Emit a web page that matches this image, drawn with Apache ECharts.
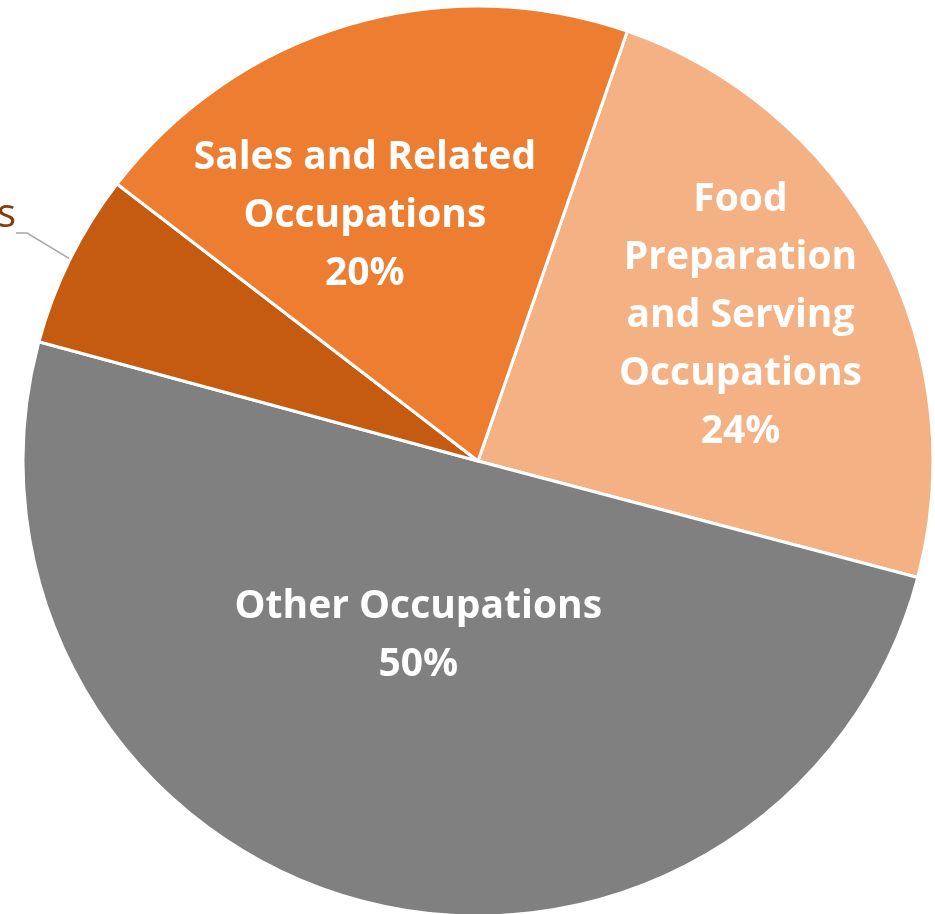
<!DOCTYPE html>
<html>
<head>
<meta charset="utf-8">
<script src="https://cdn.jsdelivr.net/npm/echarts@6/dist/echarts.min.js"></script>
<style>
    html, body { margin: 0; padding: 0; background: #fff; }
    #pieChart { width: 935px; height: 914px; }
</style>
</head>
<body>
<div id="pieChart"></div>
<script>
// dữ liệu (phần trăm), theo chiều kim đồng hồ
const categories = [
    'Food Preparation and Serving Occupations',
    'Other Occupations',
    'Office and Administrative Support Occupations',
    'Sales and Related Occupations'
];
const values = [23.8, 50.1, 6.2, 19.9];
const labelTexts = [
    'Food\nPreparation\nand Serving\nOccupations',
    'Other Occupations',
    'Office and Administrative Support Occupations',
    'Sales and Related\nOccupations'
];

const colors = ['#F4B183', '#808080', '#C55A11', '#ED7D31'];
// vị trí nhãn kiểu Excel "best fit"
const labelOffsets = [[59, -37], [0, -48], [0, 0], [-47, -24]];

var myChart = echarts.init(document.getElementById('pieChart'));

let pieData = categories.map(function (name, i) {
    let item = {
        name: name,
        value: values[i],
        itemStyle: { color: colors[i] },
        label: {
            position: 'inside',
            offset: labelOffsets[i],
            formatter: function (p) {
                return labelTexts[i] + '\n' + Math.round(p.percent) + '%';
            }
        },
        labelLine: { show: false }
    };
    if (i === 2) {
        // nhãn nhỏ nằm ngoài khung, chỉ thấy chữ "s"
        item.label = {
            position: 'outside',
            color: '#843C0C',
            width: 900,
            overflow: 'none',
            align: 'right',
            formatter: function (p) {
                return '{n|' + labelTexts[i] + '}\n{p|' + Math.round(p.percent) + '%}';
            },
            rich: {
                n: { color: '#843C0C', fontSize: 40, fontWeight: 'normal', fontFamily: 'Open Sans', lineHeight: 58, align: 'right' },
                p: { color: '#843C0C', fontSize: 40, fontWeight: 'normal', fontFamily: 'Open Sans', lineHeight: 28, align: 'center' }
            }
        };
        item.labelLine = {
            show: true,
            length: 40,
            length2: 11,
            lineStyle: { color: '#A6A6A6', width: 1.5 }
        };
    }
    return item;
});

let option = {
    animation: false,
    series: [{
        type: 'pie',
        center: [478, 461],
        radius: 455,
        startAngle: 70.85,
        clockwise: true,
        avoidLabelOverlap: false,
        percentPrecision: 0,
        itemStyle: {
            borderColor: '#ffffff',
            borderWidth: 3
        },
        label: {
            color: '#ffffff',
            fontSize: 39,
            fontWeight: 'bold',
            fontFamily: 'Open Sans',
            lineHeight: 58,
            align: 'center'
        },
        labelLayout: function (params) {
            if (params.dataIndex === 2) {
                return { x: 16, y: 230, align: 'right', verticalAlign: 'middle' };
            }
        },
        emphasis: { disabled: true },
        data: pieData
    }]
};

myChart.setOption(option);
</script>
</body>
</html>
